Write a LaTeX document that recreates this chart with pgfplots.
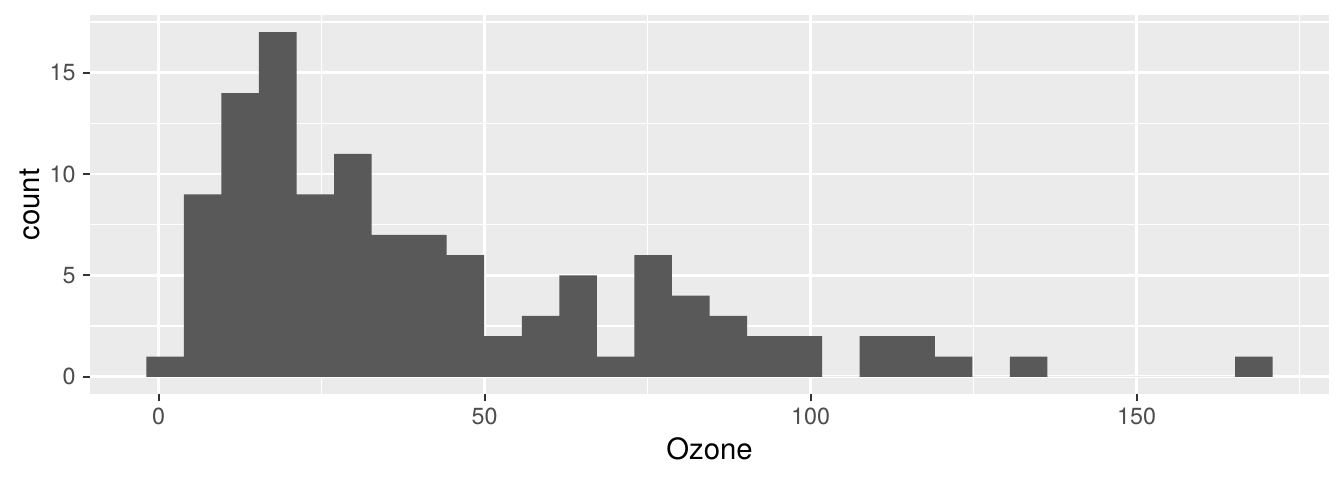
\documentclass[border=0pt]{standalone}
\usepackage{fontspec}
\setmainfont{TeX Gyre Heros}
\usepackage{pgfplots}
\pgfplotsset{compat=1.18}
\usetikzlibrary{calc}
\definecolor{panel}{HTML}{EBEBEB}
\definecolor{barc}{HTML}{595959}
\definecolor{ticklab}{HTML}{4D4D4D}
\definecolor{tickc}{HTML}{333333}
\begin{document}
\begin{tikzpicture}
\begin{axis}[
 scale only axis, width=619.5bp, height=189.5bp,
 xmin=-10.518, xmax=179.518, ymin=-0.85, ymax=17.85,
 axis background/.style={fill=panel},
 axis line style={draw=none},
 xtick={0,50,100,150}, minor xtick={25,75,125,175},
 ytick={0,5,10,15}, minor ytick={2.5,7.5,12.5,17.5},
 grid=both,
 major grid style={white, line width=1.3bp},
 minor grid style={white, line width=0.7bp},
 tick align=outside, tick pos=left,
 major tick length=3.67bp, minor tick length=0pt,
 tick style={tickc, line width=1.0bp},
 ticklabel style={font=\fontsize{11.7}{12}\selectfont, text=ticklab},
 /pgf/number format/assume math mode=true,
 xlabel={Ozone}, ylabel={count},
 label style={font=\fontsize{14.7}{16}\selectfont},
 xlabel style={at={(axis description cs:0.5,-0.1451)}, anchor=center},
 ylabel style={at={(axis description cs:-0.04843,0.5)}, anchor=center},
]
\addplot[ybar interval, fill=barc, draw=none] coordinates {
(-1.8793,1) (3.8793,9) (9.6379,14) (15.3966,17) (21.1552,9) (26.9138,11)
(32.6724,7) (38.4310,7) (44.1897,6) (49.9483,2) (55.7069,3) (61.4655,5)
(67.2241,1) (72.9828,6) (78.7414,4) (84.5000,3) (90.2586,2) (96.0172,2)
(101.7759,0) (107.5345,2) (113.2931,2) (119.0517,1) (124.8103,0) (130.5690,1)
(136.3276,0) (142.0862,0) (147.8448,0) (153.6034,0) (159.3621,0) (165.1207,1)
(170.8793,1)
};
\coordinate (ll) at (rel axis cs:0,0);
\coordinate (ur) at (rel axis cs:1,1);
\end{axis}
\pgfresetboundingbox
\path[use as bounding box] ($(ll)+(-45bp,-43bp)$) rectangle ($(ur)+(7.5bp,7.5bp)$);
\end{tikzpicture}
\end{document}
